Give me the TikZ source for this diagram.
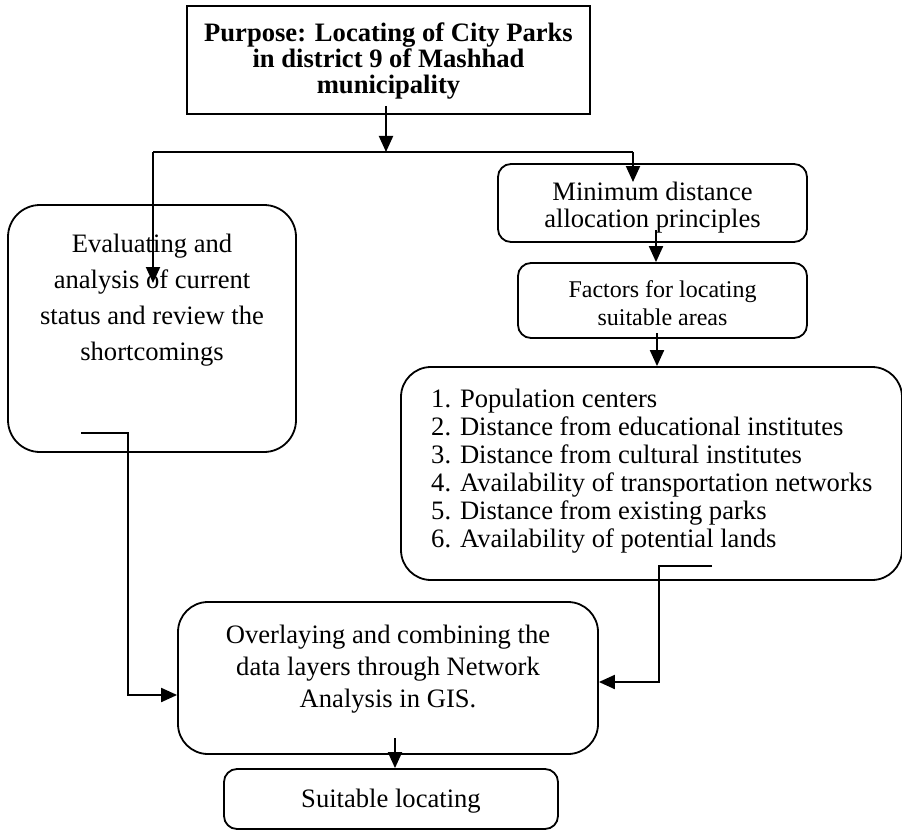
\documentclass[tikz,border=0pt]{standalone}
\usepackage{fontspec}
\setmainfont{Liberation Serif}
\usetikzlibrary{arrows.meta}
\begin{document}
\begin{tikzpicture}[x=1pt,y=-1pt,
  box/.style={draw, line width=1.8pt, inner sep=0pt, minimum width=#1},
  rbox/.style={box=0pt, rounded corners=#1},
  arr/.style={-{Triangle[length=16pt,width=14pt]}, line width=2pt},
  ln/.style={line width=2pt},
  txt/.style={inner sep=0pt, align=center, font=\fontsize{26.6}{36}\selectfont},
]
\useasboundingbox (0,0) rectangle (902,832);
% boxes
\node[box=403pt, minimum height=108pt] (top) at (388.5,60) {};
\node[rbox=32pt, minimum width=288pt, minimum height=247pt] (eval) at (152,328.5) {};
\node[rbox=13pt, minimum width=309pt, minimum height=78pt] (mind) at (652.5,203) {};
\node[rbox=13pt, minimum width=289pt, minimum height=75pt] (fact) at (662.5,300.5) {};
\node[rbox=30pt, minimum width=501pt, minimum height=213pt] (list) at (651.5,473.5) {};
\node[rbox=30pt, minimum width=420pt, minimum height=152pt] (over) at (388,678) {};
\node[rbox=13pt, minimum width=334pt, minimum height=60pt] (suit) at (391,799) {};
% texts (anchor=base is the baseline of the last line)
\node[txt, anchor=base, font=\bfseries\fontsize{26.6}{26}\selectfont] (toptext) at (388.5,94)
  {Purpose: Locating of City Parks\\in district 9 of Mashhad\\municipality};
\node[txt, anchor=base] (evaltext) at (152,360)
  {Evaluating and\\analysis of current\\status and review the\\shortcomings};
\node[txt, anchor=base, font=\fontsize{26.6}{27}\selectfont] (mindtext) at (652.5,227)
  {Minimum distance\\allocation principles};
\node[txt, anchor=base, font=\fontsize{24}{28}\selectfont] (facttext) at (662.5,325)
  {Factors for locating\\suitable areas};
\node[txt, anchor=base west, align=left, font=\fontsize{26.6}{28}\selectfont] (listtext) at (431,547)
  {1. Population centers\\2. Distance from educational institutes\\3. Distance from cultural institutes\\4. Availability of transportation networks\\5. Distance from existing parks\\6. Availability of potential lands};
\node[txt, anchor=base, font=\fontsize{26.6}{32}\selectfont] (overtext) at (388,707)
  {Overlaying and combining the\\data layers through Network\\Analysis in GIS.};
\node[txt, anchor=base] (suittext) at (391,807) {Suitable locating};
% connector points
\coordinate (t0) at (386,106);
\coordinate (t1) at (386,152);
\coordinate (hl) at (153,152);
\coordinate (hr) at (633,152);
\coordinate (mtip) at (633,182);
\coordinate (etip) at (153,283);
\coordinate (m0) at (656,230);
\coordinate (f0) at (657,333);
\coordinate (e0) at (81,433);
\coordinate (e1) at (128,433);
\coordinate (e2) at (128,695);
\coordinate (l0) at (712,566);
\coordinate (l1) at (659,566);
\coordinate (l2) at (659,682);
\coordinate (o0) at (395,738);
% connectors
\draw[arr] (t0) -- (t1);
\draw[ln] (hl) -- (hr);
\draw[arr] (hr) -- (mtip);
\draw[arr] (hl) -- (etip);
\draw[arr] (m0) -- (m0 |- fact.north);
\draw[arr] (f0) -- (f0 |- list.north);
\draw[arr] (e0) -- (e1) -- (e2) -- (e2 -| over.west);
\draw[arr] (l0) -- (l1) -- (l2) -- (l2 -| over.east);
\draw[arr] (o0) -- (o0 |- suit.north);
\end{tikzpicture}
\end{document}
